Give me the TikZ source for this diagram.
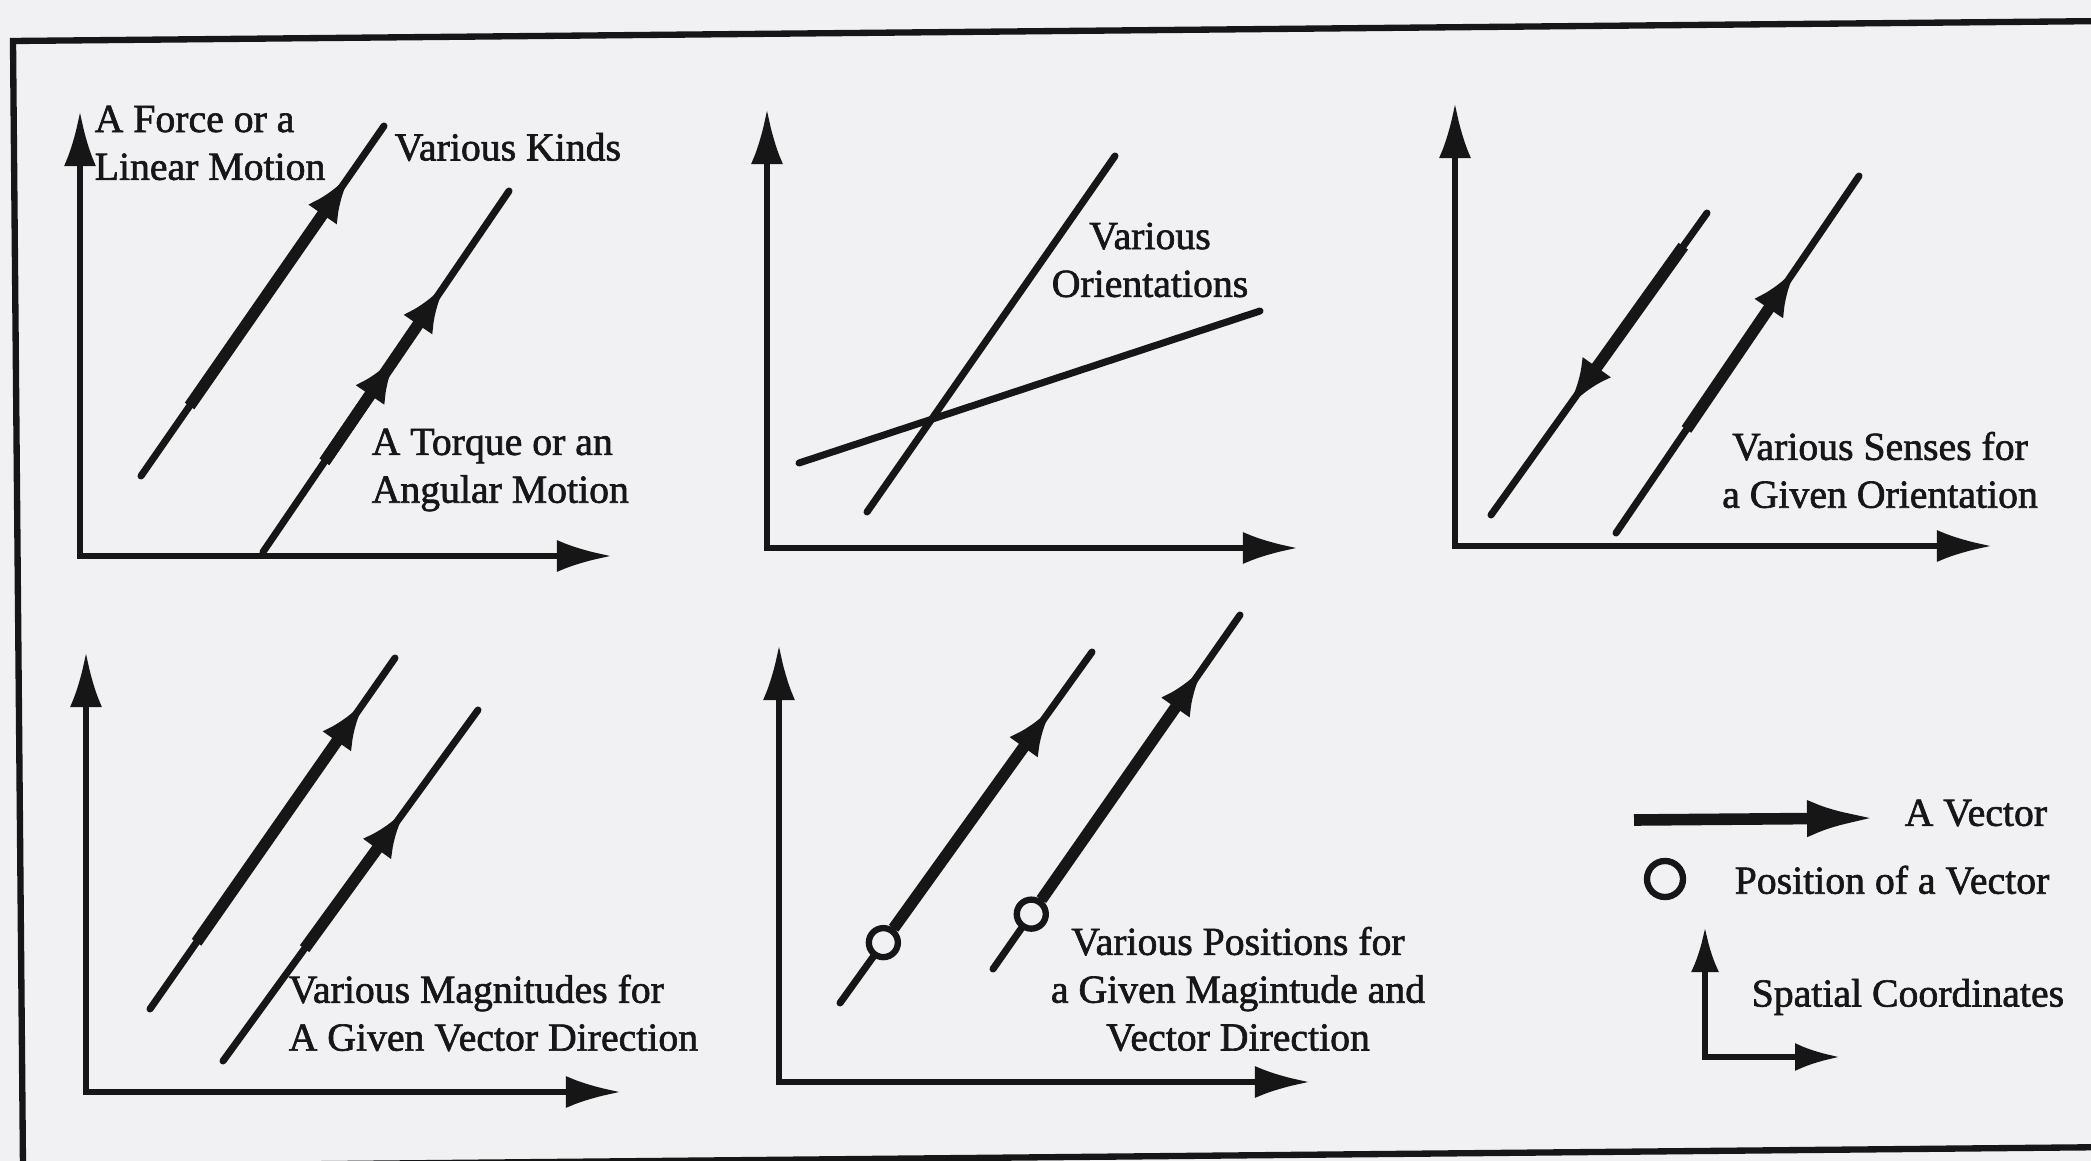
\documentclass[tikz,border=0pt]{standalone}
\usepackage{fontspec}
\setmainfont{Liberation Serif}[FakeBold=1.6]
\usepackage{tikz}
\usetikzlibrary{arrows.meta,calc}
\definecolor{paper}{RGB}{241,241,244}
\definecolor{ink}{RGB}{22,22,22}

\begin{document}
\begin{tikzpicture}[x=0.01cm,y=-0.01cm,
frame/.style={draw=ink,line width=1.8pt},
axis/.style={draw=ink,line width=1.7pt,>={Latex[length=5.5mm,width=3.2mm]},<->},
action/.style={draw=ink,line width=2pt,line cap=round},
vec/.style={draw=ink,line width=3.3pt,-{Latex[length=4.8mm,width=3.5mm]}},
posring/.style={circle,draw=ink,line width=1.8pt,fill=paper,minimum size=2.9mm,inner sep=0pt},
lbl/.style={font=\fontsize{11.3}{13.6}\selectfont,text=ink,inner sep=0pt}]
\useasboundingbox (0,0) rectangle (2091,1161);
\clip (0,0) rectangle (2091,1161);
\fill[paper] (0,0) rectangle (2091,1161);
\draw[frame] (13,41) -- (2110,21) -- (2120,1147) -- (23,1167) -- cycle;
\coordinate (o1) at (80,556); \coordinate (y1) at (80,111); \coordinate (x1) at (612,556);
\coordinate (o2) at (767,548); \coordinate (y2) at (767,109); \coordinate (x2) at (1298,548);
\coordinate (o3) at (1455,546); \coordinate (y3) at (1455,103); \coordinate (x3) at (1992,546);
\coordinate (o4) at (86,1092); \coordinate (y4) at (86,652); \coordinate (x4) at (621,1092);
\coordinate (o5) at (779,1082); \coordinate (y5) at (779,645); \coordinate (x5) at (1310,1082);
\coordinate (o6) at (1705,1057); \coordinate (y6) at (1705,927); \coordinate (x6) at (1840,1057);
\draw[axis] (y1) -- (o1) -- (x1); \draw[axis] (y2) -- (o2) -- (x2); \draw[axis] (y3) -- (o3) -- (x3);
\draw[axis] (y4) -- (o4) -- (x4); \draw[axis] (y5) -- (o5) -- (x5);
\draw[axis,>={Latex[length=4.5mm,width=2.8mm]}] (y6) -- (o6) -- (x6);
\coordinate (fa) at (141,476); \coordinate (fb) at (384,126);
\coordinate (ta) at (263,552); \coordinate (tb) at (509,191);
\draw[action] (fa) -- (fb); \draw[vec] ($(fa)!0.2!(fb)$) -- ($(fa)!0.86!(fb)$);
\draw[action] (ta) -- (tb); \draw[vec] ($(ta)!0.25!(tb)$) -- ($(ta)!0.74!(tb)$);
\draw[vec] ($(ta)!0.25!(tb)$) -- ($(ta)!0.545!(tb)$);
\node[lbl,anchor=west,align=left] (force) at (94,143) {A Force or a\\Linear Motion};
\node[lbl,anchor=west] (kinds) at (394,147) {Various Kinds};
\node[lbl,anchor=west,align=left] (torque) at (371,470) {A Torque or an\\Angular Motion};
\coordinate (ra) at (867,512); \coordinate (rb) at (1115,156);
\coordinate (sa) at (799,463); \coordinate (sb) at (1260,311);
\draw[action] (ra) -- (rb); \draw[action] (sa) -- (sb);
\node[lbl,align=center] (orient) at (1150,260) {Various\\Orientations};
\coordinate (da) at (1707,213); \coordinate (db) at (1491,515);
\coordinate (ua) at (1616,533); \coordinate (ub) at (1859,176);
\draw[action] (da) -- (db); \draw[vec] ($(da)!0.11!(db)$) -- ($(da)!0.64!(db)$);
\draw[action] (ua) -- (ub); \draw[vec] ($(ua)!0.29!(ub)$) -- ($(ua)!0.74!(ub)$);
\node[lbl,align=center] (senses) at (1880,470) {Various Senses for\\a Given Orientation};
\coordinate (ma) at (150,1009); \coordinate (mb) at (395,658);
\coordinate (na) at (223,1061); \coordinate (nb) at (478,710);
\draw[action] (ma) -- (mb); \draw[vec] ($(ma)!0.19!(mb)$) -- ($(ma)!0.875!(mb)$);
\draw[action] (na) -- (nb); \draw[vec] ($(na)!0.32!(nb)$) -- ($(na)!0.715!(nb)$);
\node[lbl,anchor=west,align=left] (magn) at (288,1013) {Various Magnitudes for\\A Given Vector Direction};
\coordinate (pa) at (840,1003); \coordinate (pb) at (1092,652);
\coordinate (qa) at (993,969); \coordinate (qb) at (1240,615);
\draw[action] (pa) -- (pb); \draw[action] (qa) -- (qb);
\node[posring] (pc) at ($(pa)!0.172!(pb)$) {}; \node[posring] (qc) at ($(qa)!0.155!(qb)$) {};
\draw[vec] (pc) -- ($(pa)!0.84!(pb)$); \draw[vec] (qc) -- ($(qa)!0.85!(qb)$);
\node[lbl,align=center] (posn) at (1238,989) {Various Positions for\\a Given Magintude and\\Vector Direction};
\coordinate (la) at (1634,820); \coordinate (lb) at (1877,818);
\draw[vec,-{Latex[length=7mm,width=3.7mm]}] (la) -- (lb);
\node[lbl,anchor=west] (lvec) at (1904,813) {A Vector};
\node[posring,minimum size=3.6mm] (lcirc) at (1665,879) {};
\node[lbl,anchor=west] (lpos) at (1734,880) {Position of a Vector};
\node[lbl,anchor=west] (lcoord) at (1751,997) {Spatial Coordinates};
\end{tikzpicture}
\end{document}
